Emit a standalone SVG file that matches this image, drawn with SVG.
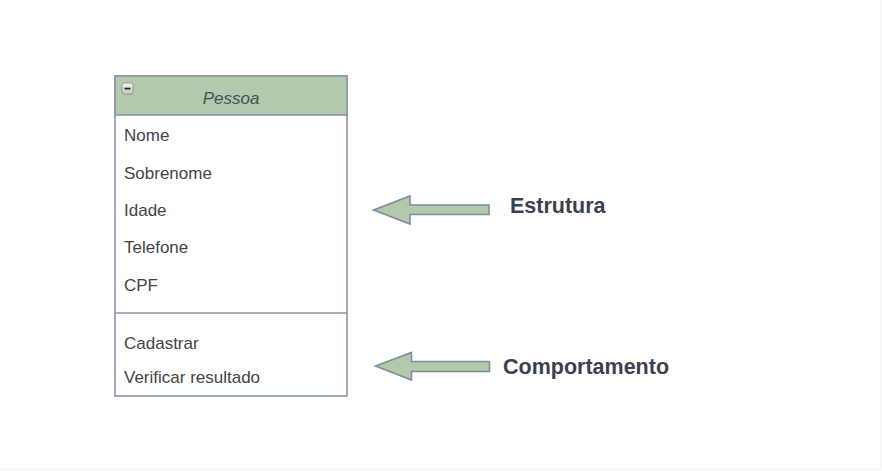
<svg xmlns="http://www.w3.org/2000/svg" width="882" height="471" viewBox="0 0 882 471">
<defs>
<linearGradient id="btn" x1="0" y1="0" x2="0" y2="1">
<stop offset="0" stop-color="#f4f4f4"/>
<stop offset="1" stop-color="#c8c8c8"/>
</linearGradient>
<style>
.box{fill:#ffffff;stroke:#8c95a8;stroke-width:1.6}
.hdr{fill:#b3c9ab;stroke:#8c95a8;stroke-width:1.6}
.attr{font-family:"Liberation Sans",Arial,sans-serif;font-size:17px;fill:#444444}
.title{font-family:"Liberation Sans",Arial,sans-serif;font-size:17px;font-style:italic;fill:#4a4f5c}
.lbl{font-family:"Liberation Sans",Arial,sans-serif;font-size:21.5px;font-weight:bold;fill:#3b3f4f}
.arrow{fill:#b3c9ab;stroke:#7f8ca3;stroke-width:1.6;stroke-linejoin:miter}
</style>
</defs>
<rect x="0" y="0" width="882" height="471" fill="#ffffff"/>
<line x1="880.5" y1="0" x2="880.5" y2="469.5" stroke="#f0f0f0" stroke-width="1"/>
<line x1="0" y1="469.5" x2="880.5" y2="469.5" stroke="#f0f0f0" stroke-width="1"/>
<g id="pessoa">
<rect class="box" x="115" y="76" width="232" height="320"/>
<rect class="hdr" x="115" y="76" width="232" height="39"/>
<rect x="122" y="83" width="11" height="11" rx="2" fill="url(#btn)" stroke="#8a8a8a" stroke-width="0.8"/>
<rect x="124.5" y="87.7" width="6" height="1.8" fill="#222222"/>
<text class="title" x="231" y="103.5" text-anchor="middle">Pessoa</text>
<text class="attr" x="124" y="140.5">Nome</text>
<text class="attr" x="124" y="179">Sobrenome</text>
<text class="attr" x="124" y="216">Idade</text>
<text class="attr" x="124" y="252.7">Telefone</text>
<text class="attr" x="124" y="290.7">CPF</text>
<line x1="115" y1="313" x2="347" y2="313" stroke="#8c95a8" stroke-width="1.6"/>
<text class="attr" x="124" y="349.3">Cadastrar</text>
<text class="attr" x="124" y="383.3">Verificar resultado</text>
</g>
<g id="connectors">
<polygon class="arrow" points="373.5,210 410,196 410,205 489,205 489,214.5 410,214.5 410,224"/>
<polygon class="arrow" points="375.5,366 411.5,352.5 411.5,361.5 489.5,361.5 489.5,371.5 411.5,371.5 411.5,380"/>
</g>
<g id="estrutura">
<text class="lbl" x="510" y="213.3">Estrutura</text>
</g>
<g id="comportamento">
<text class="lbl" x="503" y="374.3">Comportamento</text>
</g>
</svg>
